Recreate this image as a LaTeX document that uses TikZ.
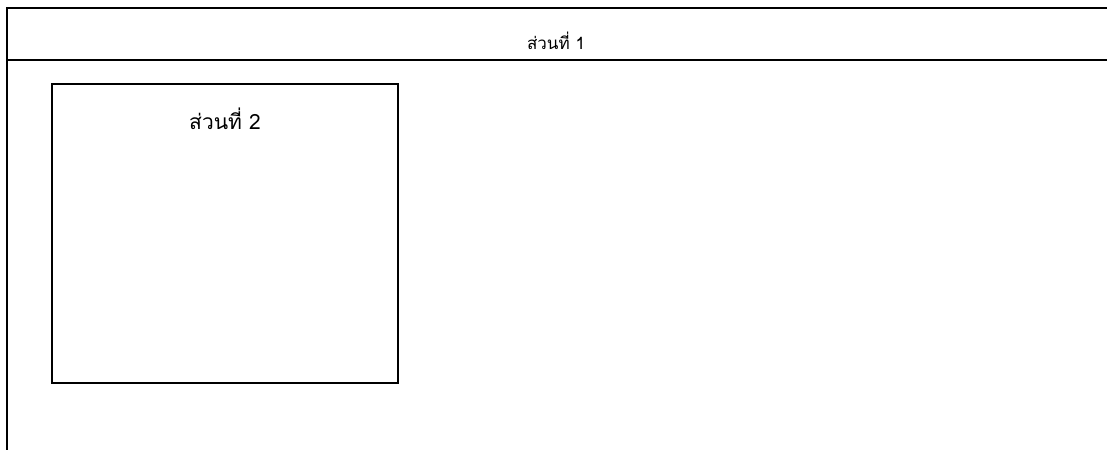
\documentclass[tikz,border=0pt]{standalone}
\usepackage{fontspec}
\newfontfamily\thaifont[Script=Thai]{Loma}
\tikzset{
  frameline/.style={line width=2pt},
  titlelabel/.style={font=\thaifont\fontsize{17}{20}\selectfont, inner sep=0pt},
  boxlabel/.style={font=\thaifont\fontsize{21}{24}\selectfont, inner sep=0pt},
}
\begin{document}
\begin{tikzpicture}[x=1pt,y=-1pt]
  \useasboundingbox (0,0) rectangle (1107,450);
  % outer frame, open to the right and bottom
  \draw [frameline] (1107,8) -- (7,8) -- (7,450);
  \draw [frameline] (7,60) -- (1107,60);
  \node [titlelabel] (part1) at (556,41) {ส่วนที่ 1};
  % inner box
  \draw [frameline] (52,84) rectangle (398,383);
  \node [boxlabel] (part2) at (225,119) {ส่วนที่ 2};
\end{tikzpicture}
\end{document}
